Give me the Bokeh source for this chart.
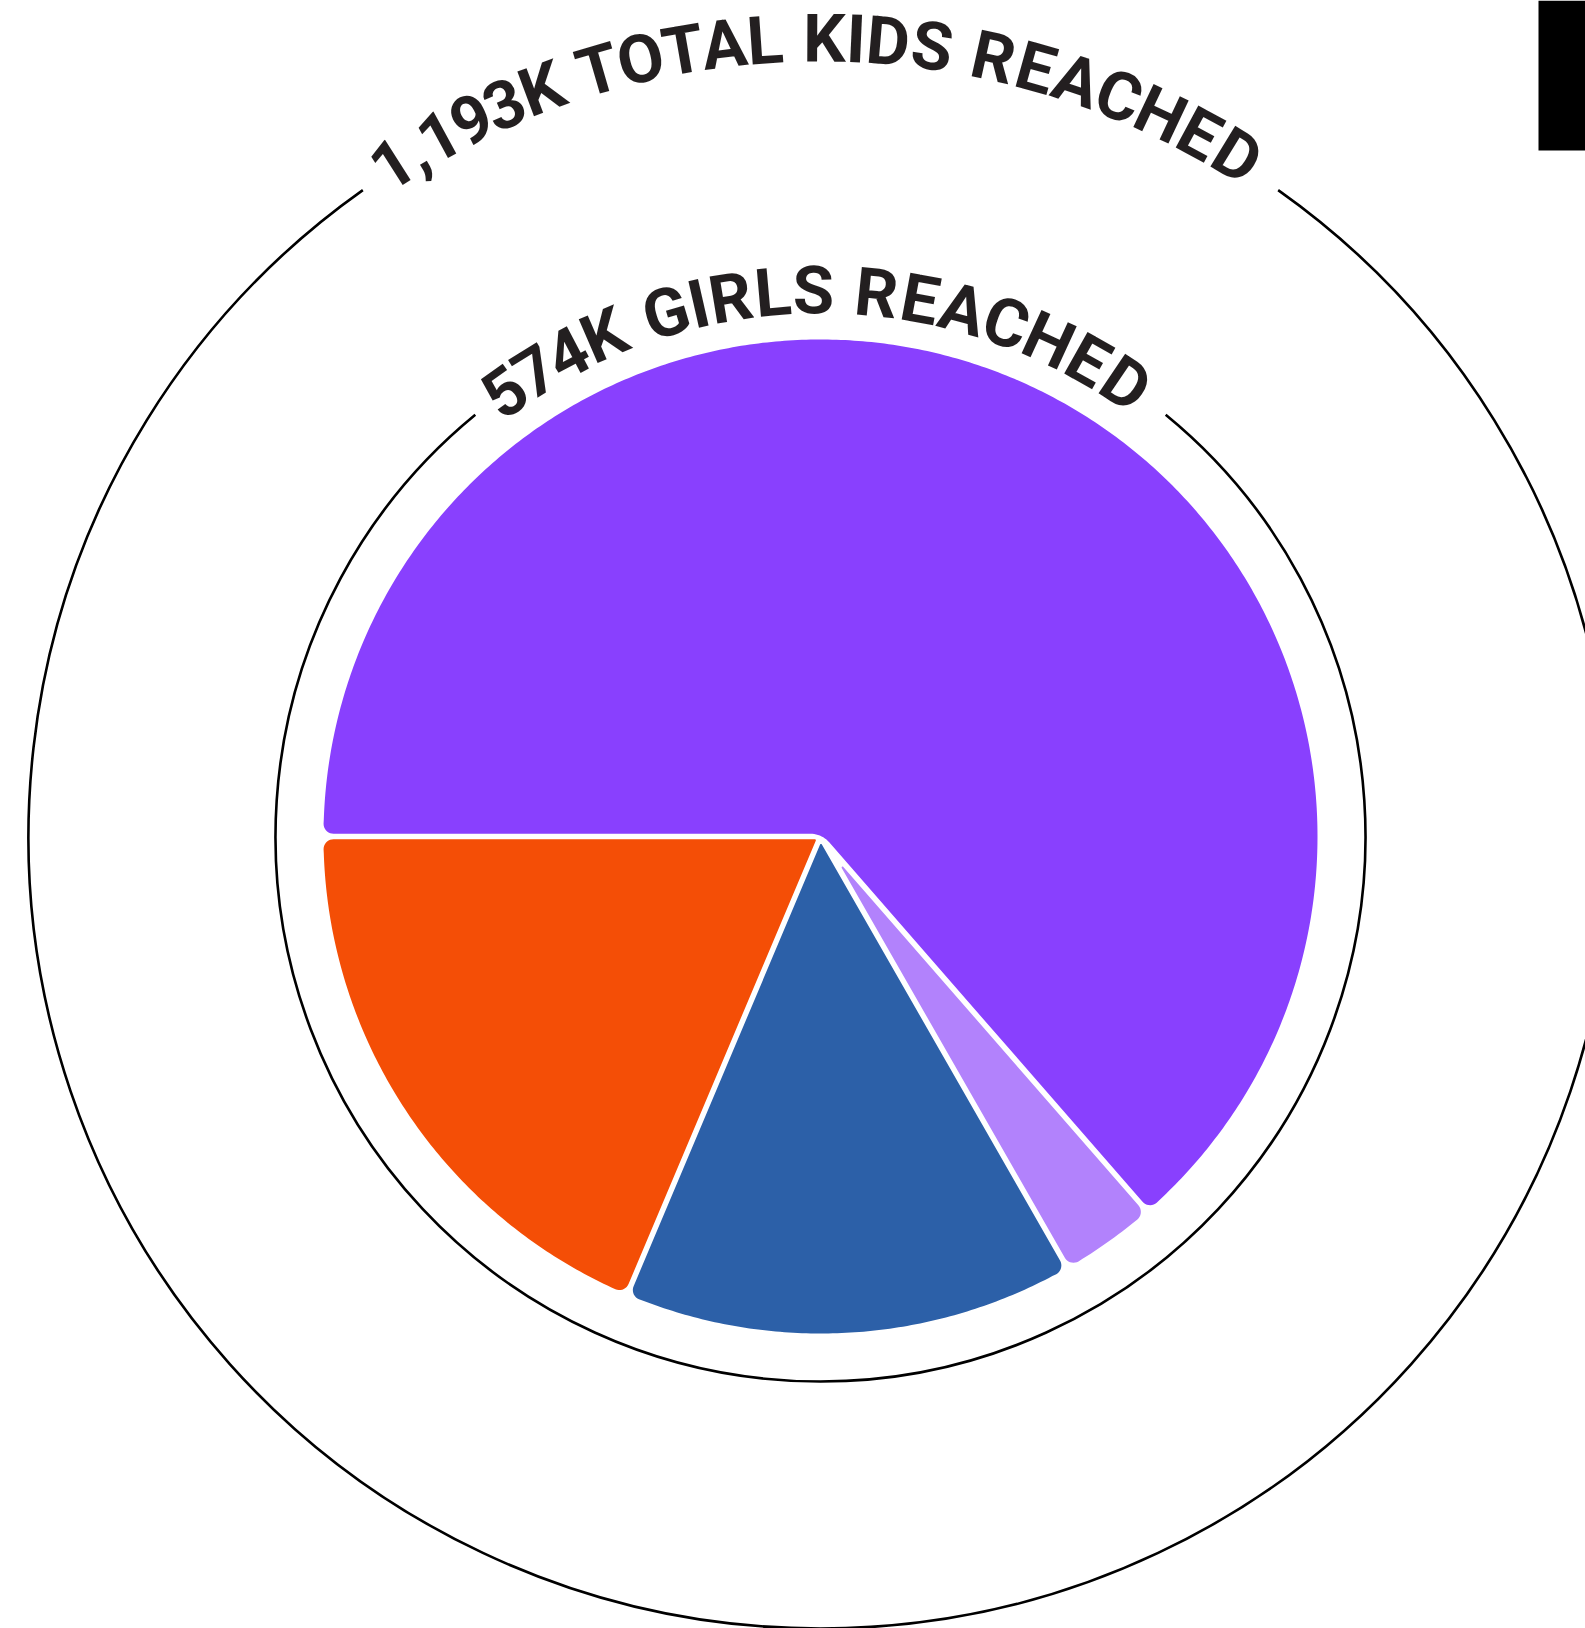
import numpy as np
from bokeh.plotting import figure
from bokeh.models import ColumnDataSource, Range1d, BoxAnnotation
from bokeh.core.properties import value
from bokeh.embed import file_html
from bokeh.resources import INLINE

# ---------------- data ----------------
segments = ["Segment A", "Segment B", "Segment C", "Segment D"]
girls_reached_k = [365, 18, 84, 107]          # clockwise from 9 o'clock
segment_colors = ["#8940FE", "#B282FC", "#2C60A8", "#F44E06"]
total_kids_k = 1193
girls_total_k = sum(girls_reached_k)           # 574
outer_label = f"{total_kids_k:,}K TOTAL KIDS REACHED"
inner_label = f"{girls_total_k}K GIRLS REACHED"

# ---------------- layout / style ----------------
W, H = 1585, 1628
CX, CY = 820, 836            # pie centre in page pixels
PIE_R = 497
GAP = 5.5
CORNER = 10
INNER_RING_R = 545
OUTER_RING_R = 792
TEXT_COLOR = "#231f20"
FONT = "Roboto"
FONT_SIZE = "67px"

# approximate bold grotesque advance widths (per 1000 em) used to space letters
ADV = {"0": 556, "1": 556, "2": 556, "3": 556, "4": 556, "5": 556, "6": 556,
       "7": 556, "8": 556, "9": 556, ",": 278, " ": 278, "K": 685, "T": 574,
       "O": 760, "A": 685, "L": 574, "I": 278, "D": 704, "S": 648, "R": 704,
       "E": 630, "C": 685, "H": 704, "G": 741}


def unit(v):
    return v / np.hypot(v[0], v[1])


def pol(a, r=1.0):
    return np.array([r * np.cos(a), r * np.sin(a)])


def fillet(prev, corner, nxt, r, n=10):
    v1 = unit(prev - corner)
    v2 = unit(nxt - corner)
    ang = np.arccos(np.clip(np.dot(v1, v2), -1, 1))
    if r <= 0 or ang < 1e-3 or ang > np.pi - 1e-3:
        return [corner]
    L = r / np.tan(ang / 2)
    T1 = corner + v1 * L
    T2 = corner + v2 * L
    C = corner + unit(v1 + v2) * r / np.sin(ang / 2)
    t1 = np.arctan2(*(T1 - C)[::-1])
    t2 = np.arctan2(*(T2 - C)[::-1])
    d = (t2 - t1 + np.pi) % (2 * np.pi) - np.pi
    return [C + pol(t1 + d * f, r) for f in np.linspace(0, 1, n)]


def slice_polygon(s, e, R, g, c_out, c_apex):
    h = g / 2
    half = (e - s) / 2
    mid = (s + e) / 2
    P = pol(mid, h / np.sin(half))
    a1 = s + np.arcsin(h / R)
    a2 = e - np.arcsin(h / R)
    A1, A2 = pol(a1, R), pol(a2, R)
    tan1 = np.array([-np.sin(a1), np.cos(a1)])
    tan2 = np.array([-np.sin(a2), np.cos(a2)])
    f_apex = fillet(A2, P, A1, c_apex, 12)
    f1 = fillet(P, A1, A1 + tan1 * 100, c_out)
    f2 = fillet(A2 - tan2 * 100, A2, P, c_out)
    b1 = np.arctan2(f1[-1][1], f1[-1][0])
    b2 = np.arctan2(f2[0][1], f2[0][0])
    if b2 < b1:
        b2 += 2 * np.pi
    n = max(6, int(np.degrees(b2 - b1) * 2))
    arc = [pol(b, R) for b in np.linspace(b1, b2, n)[1:-1]]
    pts = f_apex + f1 + arc + f2
    return [p[0] for p in pts], [p[1] for p in pts]


# slices: start at 180 deg, run clockwise
total = float(sum(girls_reached_k))
xs, ys = [], []
a = np.pi
for v in girls_reached_k:
    span = v / total * 2 * np.pi
    s, e = a - span, a
    c_apex = 25 if span > np.pi else 1
    px, py = slice_polygon(s, e, PIE_R, GAP, CORNER, c_apex)
    xs.append(px)
    ys.append(py)
    a -= span

pie_src = ColumnDataSource(dict(xs=xs, ys=ys, color=segment_colors,
                                segment=segments, value=girls_reached_k))


def arc_text(label, r_anchor, th_first, th_last):
    adv = np.array([ADV[ch] for ch in label], dtype=float)
    centers = np.concatenate([[0], np.cumsum(adv)[:-1]]) + adv / 2
    frac = (centers - centers[0]) / (centers[-1] - centers[0])
    th = np.radians(th_first + (th_last - th_first) * frac)
    return dict(text=list(label), x=r_anchor * np.cos(th), y=r_anchor * np.sin(th),
                angle=th - np.pi / 2)


outer_src = ColumnDataSource(arc_text(outer_label, 798, 122.5, 58.5))
inner_src = ColumnDataSource(arc_text(inner_label, 546, 125.4, 56.0))

# ---------------- figure ----------------
p = figure(width=W, height=H, output_backend="svg", toolbar_location=None,
           x_range=Range1d(-CX, W - CX), y_range=Range1d(CY - H, CY),
           x_axis_location=None, y_axis_location=None, min_border=0)
p.grid.visible = False
p.outline_line_color = None
p.background_fill_color = "white"
p.border_fill_color = "white"

p.patches("xs", "ys", source=pie_src, fill_color="color", line_color=None)

p.arc(x=[0], y=[0], radius=INNER_RING_R, start_angle=np.radians(129.3),
      end_angle=np.radians(50.7), direction="anticlock", line_color="black", line_width=2.6)
p.arc(x=[0], y=[0], radius=OUTER_RING_R, start_angle=np.radians(125.3),
      end_angle=np.radians(54.7), direction="anticlock", line_color="black", line_width=2.6)

for src in (outer_src, inner_src):
    p.text("x", "y", text="text", angle="angle", source=src,
           text_font=value(FONT), text_font_style="bold",
           text_font_size=FONT_SIZE, text_align="center", text_baseline="alphabetic",
           text_color=TEXT_COLOR)

# black block at top-right corner of the page
p.add_layout(BoxAnnotation(left=1538 - CX, bottom=CY - 150, fill_color="black",
                           fill_alpha=1.0, line_color=None))

open("out.html", "w").write(file_html(p, INLINE))
